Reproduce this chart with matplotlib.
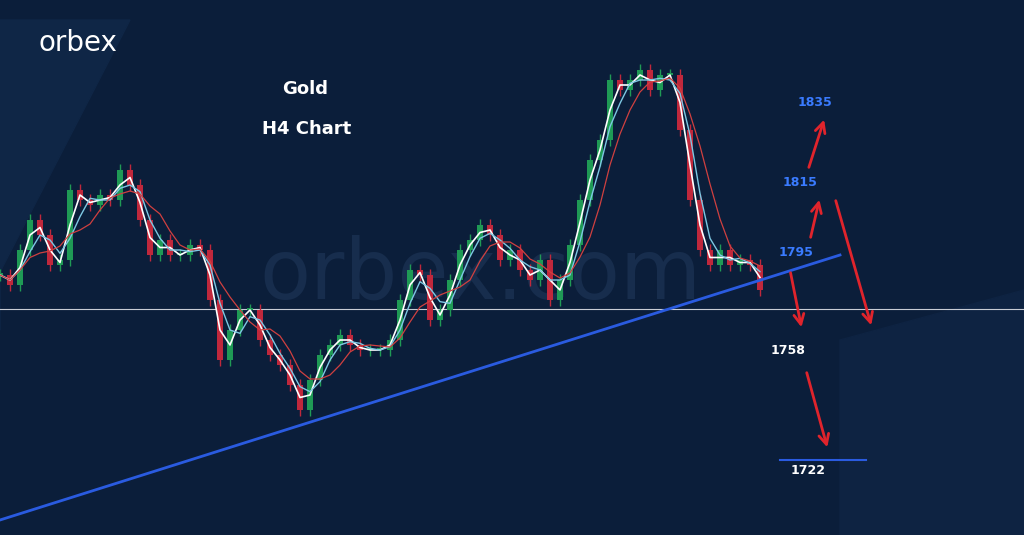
import matplotlib
matplotlib.use("Agg")
import matplotlib.pyplot as plt
import numpy as np
from matplotlib.patches import Polygon

# price coordinates: price = 1861 - 0.25*pixel_y
def P(y): return 1861 - 0.25*np.asarray(y, float)

candle_x = list(range(0, 770, 10))
close_y = [275,285,250,220,235,265,260,190,200,205,195,200,170,185,220,255,240,255,255,245,
           250,300,360,330,310,310,340,355,365,385,410,380,355,345,335,345,350,350,350,340,
           300,270,275,320,310,280,250,240,225,235,260,250,270,280,260,300,280,245,200,160,
           140,80,90,80,70,90,75,75,130,200,250,265,250,265,260,265,290]
candle_x = candle_x[:len(close_y)]
closes = P(close_y)

levels = [1835, 1815, 1795, 1758, 1722]
level_y = [103, 183, 253, 350, 470]

bg = "#0b1e3a"
fig = plt.figure(figsize=(10.24, 5.35), dpi=100)
ax = fig.add_axes([0, 0, 1, 1])
ax.set_facecolor(bg)
ax.set_xlim(0, 1024)
ax.set_ylim(P(535), P(0))
ax.axis("off")

ax.add_patch(Polygon([(0, P(20)), (130, P(20)), (-30, P(330)), (0, P(330))], closed=True, color="#0f2646", zorder=0))
ax.add_patch(Polygon([(840, P(535)), (1024, P(535)), (1024, P(290)), (840, P(340))], closed=True, color="#0e2342", zorder=0))
ax.text(480, P(275), "orbex.com", fontsize=60, color="#172d4d", ha="center", va="center", zorder=1)

opens = np.concatenate([[closes[0]], closes[:-1]])
for x, o, c in zip(candle_x, opens, closes):
    col = "#1f9a55" if c >= o else "#c0283c"
    lo, hi = min(o, c), max(o, c)
    ax.vlines(x, lo - 1.5, hi + 1.5, color=col, lw=1, zorder=3)
    ax.bar(x, max(hi - lo, 0.4), bottom=lo, width=6, color=col, zorder=3)

s = np.array(closes)
def ma(n):
    return np.array([s[max(0, i-n+1):i+1].mean() for i in range(len(s))])
ax.plot(candle_x, ma(2), color="white", lw=1.2, zorder=4)
ax.plot(candle_x, ma(3), color="#7ec8e3", lw=1, zorder=4)
ax.plot(candle_x, ma(5), color="#d04040", lw=0.9, zorder=4)

ax.axhline(P(309), color="#c8ccd4", lw=0.8, zorder=2)
ax.plot([0, 840], [P(520), P(255)], color="#2a5be0", lw=2, zorder=5)
ax.plot([780, 866], [P(460), P(460)], color="#2a5be0", lw=1.5, zorder=5)

arrows = [((808, 170), (825, 117)), ((810, 240), (820, 197)), ((790, 270), (802, 330)),
          ((806, 370), (828, 450)), ((835, 198), (872, 328))]
for (x0, y0), (x1, y1) in arrows:
    ax.annotate("", xy=(x1, P(y1)), xytext=(x0, P(y0)),
                arrowprops=dict(arrowstyle="->", color="#e0242c", lw=2, mutation_scale=18), zorder=6)

for lv, yy, xx, col in zip(levels, level_y, [815, 800, 796, 788, 808],
                           ["#3a7bff", "#3a7bff", "#3a7bff", "white", "white"]):
    ax.text(xx, P(yy), str(lv), color=col, fontsize=9, fontweight="bold", ha="center", va="center", zorder=7)

ax.text(305, P(89), "Gold", color="white", fontsize=13, fontweight="bold", ha="center", va="center")
ax.text(307, P(129), "H4 Chart", color="white", fontsize=13, fontweight="bold", ha="center", va="center")
ax.text(38, P(43), "orbex", color="white", fontsize=20, ha="left", va="center")

fig.savefig("out.png", dpi=100, facecolor=bg)
